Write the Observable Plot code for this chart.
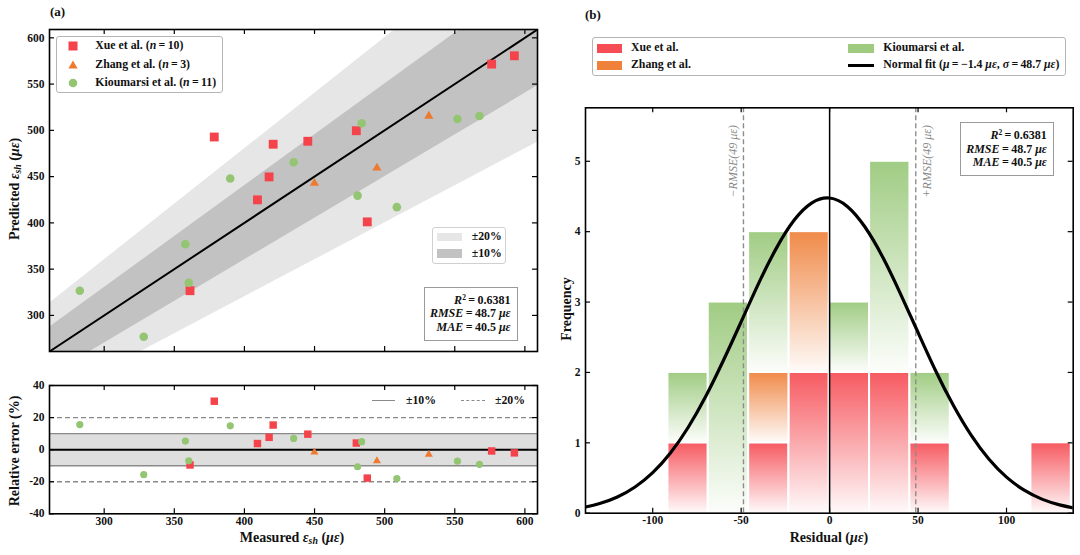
<!DOCTYPE html>
<html><head><meta charset="utf-8">
<script src="https://cdn.jsdelivr.net/npm/d3@7"></script>
<script src="https://cdn.jsdelivr.net/npm/@observablehq/plot@0.6"></script>
<style>
html,body{margin:0;padding:0;background:#fff;}
#root{position:relative;width:1080px;height:555px;overflow:hidden;font-family:"Liberation Serif","Times New Roman",serif;font-weight:bold;color:#111;}
.pw{position:absolute;}
.t{position:absolute;white-space:nowrap;line-height:1;}
.rot{transform:translate(-50%,-50%) rotate(-90deg);}
.ctr{transform:translate(-50%,-50%);}
.vc{transform:translateY(-50%);}
.box{position:absolute;box-sizing:border-box;background:rgba(255,255,255,0.93);}
sup{font-size:0.62em;vertical-align:0.55em;line-height:0;}
sub{font-size:0.7em;vertical-align:-0.25em;line-height:0;}
</style></head><body><div id="root"></div>
<script>
// ---------- data ----------
const sources = ["Xue et al.", "Zhang et al.", "Kioumarsi et al."];
const sourceN = [10, 3, 11];
const colors = ["#F5434B", "#EE7A30", "#93C572"];
const xueMeasured   = [592.5, 576.3, 378.5, 420.5, 445.2, 479.8, 417.6, 409.3, 361.2, 487.6];
const xuePredicted  = [580.6, 571.6, 492.8, 485.0, 488.2, 499.6, 449.7, 424.9, 326.7, 401.1];
const zhangMeasured = [531.5, 494.5, 449.9];
const zhangPredicted= [515.5, 459.4, 442.9];
const kiouMeasured  = [282.6, 328.2, 357.9, 360.3, 389.9, 435.1, 483.6, 480.7, 508.7, 551.9, 567.6];
const kiouPredicted = [326.7, 277.0, 377.0, 335.3, 447.9, 465.5, 507.6, 429.5, 417.0, 512.3, 515.5];
const axisLimits = [261, 609];
const strainTicks = [300, 350, 400, 450, 500, 550, 600];
const errorLimits = [-40, 40];
const errorTicks = [-40, -20, 0, 20, 40];
const bandPct = [10, 20];
const binEdges = [-91.4, -68.6, -45.8, -23.0, -0.2, 22.6, 45.4, 68.2, 91.0, 113.8, 136.6];
const xueCounts   = [1, 0, 1, 2, 2, 2, 1, 0, 0, 1];
const zhangCounts = [0, 0, 1, 2, 0, 0, 0, 0, 0, 0];
const kiouCounts  = [1, 3, 2, 0, 1, 3, 1, 0, 0, 0];
const residualLimits = [-138, 137.7];
const residualTicks = [-100, -50, 0, 50, 100];
const freqLimits = [0, 5.76];
const freqTicks = [0, 1, 2, 3, 4, 5];
const fitX = [-138, -130, -120, -110, -100, -90, -80, -70, -60, -50, -40, -30, -20, -10, 0, 10, 20, 30, 40, 50, 60, 70, 80, 90, 100, 110, 120, 130, 138];
const fitY = [0.088, 0.137, 0.231, 0.373, 0.577, 0.856, 1.218, 1.661, 2.173, 2.72, 3.272, 3.77, 4.165, 4.41, 4.478, 4.359, 4.066, 3.639, 3.12, 2.567, 2.02, 1.529, 1.108, 0.77, 0.512, 0.327, 0.20, 0.118, 0.075];
const rmse = 48.7;
const rmseLabelY = 5.0;

// ---------- helpers ----------
const root = document.getElementById("root");
const fmt = d => d < 0 ? "-" + Math.abs(d) : String(d);
const style = {fontFamily: "'Liberation Serif','Times New Roman',serif", fontSize: "11.5px", fontWeight: "bold", color: "#111", background: "transparent", overflow: "visible"};
function place(el, left, top) { const w = document.createElement("div"); w.className = "pw"; w.style.left = left + "px"; w.style.top = top + "px"; w.appendChild(el); root.appendChild(w); return w; }
function html(s) { root.insertAdjacentHTML("beforeend", s); }
const TL = 5;
function inwardTicks(xt, yt, fw, fh) {
  const o = {stroke: "#000", strokeWidth: 1.2};
  return [
    Plot.tickY(yt, {y: d => d, insetRight: fw - TL, ...o}),
    Plot.tickY(yt, {y: d => d, insetLeft: fw - TL, ...o}),
    Plot.tickX(xt, {x: d => d, insetTop: fh - TL, ...o}),
    Plot.tickX(xt, {x: d => d, insetBottom: fh - TL, ...o})
  ];
}
const symbols = ["square", "triangle", "circle"];
const rUpper = [5, 3.4, 4.3];
const rLower = [4.2, 3.0, 3.6];
const points = [];
[[xueMeasured, xuePredicted], [zhangMeasured, zhangPredicted], [kiouMeasured, kiouPredicted]].forEach(([m, p], s) =>
  m.forEach((v, i) => points.push({s, measured: v, predicted: p[i], relErr: (p[i] - v) / v * 100})));

// ---------- (a) upper ----------
const W1 = 545, H1 = 360, mL = 49, mR = 8, mT1 = 29, mB1 = 9;
const fw = W1 - mL - mR, fh1 = H1 - mT1 - mB1;
const plotA1 = Plot.plot({
  width: W1, height: H1, marginLeft: mL, marginRight: mR, marginTop: mT1, marginBottom: mB1,
  x: {domain: axisLimits, axis: null},
  y: {domain: axisLimits},
  style,
  marks: [
    Plot.areaY(axisLimits, {x: d => d, y1: d => d * (1 - bandPct[1] / 100), y2: d => d * (1 + bandPct[1] / 100), fill: "#e6e6e6", clip: true}),
    Plot.areaY(axisLimits, {x: d => d, y1: d => d * (1 - bandPct[0] / 100), y2: d => d * (1 + bandPct[0] / 100), fill: "#c2c2c2", clip: true}),
    Plot.line(axisLimits, {x: d => d, y: d => d, stroke: "#000", strokeWidth: 2, clip: true}),
    ...[0, 1, 2].map(s => Plot.dot(points.filter(d => d.s === s), {x: "measured", y: "predicted", symbol: symbols[s], r: rUpper[s], fill: colors[s]})),
    Plot.axisY({ticks: strainTicks, tickSize: 0, tickPadding: 5, label: null, tickFormat: fmt}),
    ...inwardTicks(strainTicks, strainTicks, fw, fh1),
    Plot.frame({stroke: "#000", strokeWidth: 1.6})
  ]
});
place(plotA1, 0, 0);

// ---------- (a) lower ----------
const W2 = 545, H2 = 185, top2 = 370, mT2 = 15, mB2 = 41.7;
const fh2 = H2 - mT2 - mB2;
const plotA2 = Plot.plot({
  width: W2, height: H2, marginLeft: mL, marginRight: mR, marginTop: mT2, marginBottom: mB2,
  x: {domain: axisLimits},
  y: {domain: errorLimits},
  style,
  marks: [
    Plot.areaY(axisLimits, {x: d => d, y1: () => -bandPct[0], y2: () => bandPct[0], fill: "#dedede"}),
    Plot.ruleY([-bandPct[0], bandPct[0]], {stroke: "#8a8a8a", strokeWidth: 1.4}),
    Plot.ruleY([-bandPct[1], bandPct[1]], {stroke: "#8a8a8a", strokeWidth: 1.3, strokeDasharray: "5,3"}),
    Plot.ruleY([0], {stroke: "#000", strokeWidth: 2}),
    ...[0, 1, 2].map(s => Plot.dot(points.filter(d => d.s === s), {x: "measured", y: "relErr", symbol: symbols[s], r: rLower[s], fill: colors[s]})),
    Plot.axisX({ticks: strainTicks, tickSize: 0, tickPadding: 3, label: null}),
    Plot.axisY({ticks: errorTicks, tickSize: 0, tickPadding: 5, label: null, tickFormat: fmt}),
    ...inwardTicks(strainTicks, errorTicks, fw, fh2),
    Plot.frame({stroke: "#000", strokeWidth: 1.6})
  ]
});
place(plotA2, 0, top2);

// ---------- (b) histogram ----------
const W3 = 530, H3 = 555, left3 = 550, mL3 = 35, mR3 = 7.3, mT3 = 107.3, mB3 = 42.3;
const fw3 = W3 - mL3 - mR3, fh3 = H3 - mT3 - mB3;
const countsBySource = [xueCounts, zhangCounts, kiouCounts];
const barSegs = [];
binEdges.slice(0, -1).forEach((x0, i) => {
  let cum = 0;
  countsBySource.forEach((c, s) => { if (c[i] > 0) { barSegs.push({s, x1: x0, x2: binEdges[i + 1], y1: cum, y2: cum + c[i]}); cum += c[i]; } });
});
const fit = fitX.map((x, i) => ({x, y: fitY[i]}));
const plotB = Plot.plot({
  width: W3, height: H3, marginLeft: mL3, marginRight: mR3, marginTop: mT3, marginBottom: mB3,
  x: {domain: residualLimits},
  y: {domain: freqLimits},
  style,
  marks: [
    ...[0, 1, 2].map(s => Plot.rect(barSegs.filter(d => d.s === s), {x1: "x1", x2: "x2", y1: "y1", y2: "y2", fill: `url(#grad${s})`, stroke: "#fff", strokeWidth: 2})),
    Plot.ruleX([0], {stroke: "#000", strokeWidth: 1.5}),
    Plot.ruleX([-rmse, rmse], {stroke: "#8c8c8c", strokeWidth: 1.4, strokeDasharray: "5,3"}),
    Plot.line(fit, {x: "x", y: "y", curve: "natural", stroke: "#000", strokeWidth: 3.2, clip: true}),
    Plot.text([{x: -rmse, label: "\u2212RMSE(49 \u03bc\u03b5)"}], {x: "x", y: () => rmseLabelY, text: "label", rotate: -90, dx: -10, fill: "#888", fontStyle: "italic", fontWeight: "normal", fontSize: 12}),
    Plot.text([{x: rmse, label: "+RMSE(49 \u03bc\u03b5)"}], {x: "x", y: () => rmseLabelY, text: "label", rotate: -90, dx: 11, fill: "#888", fontStyle: "italic", fontWeight: "normal", fontSize: 12}),
    Plot.axisX({ticks: residualTicks, tickSize: 0, tickPadding: 3, label: null, tickFormat: fmt}),
    Plot.axisY({ticks: freqTicks, tickSize: 0, tickPadding: 5, label: null, tickFormat: d => String(d)}),
    ...inwardTicks(residualTicks, freqTicks, fw3, fh3),
    Plot.frame({stroke: "#000", strokeWidth: 1.6})
  ]
});
{
  const sel = d3.select(plotB);
  const defs = sel.insert("defs", ":first-child");
  colors.forEach((c, i) => {
    const g = defs.append("linearGradient").attr("id", "grad" + i).attr("x1", 0).attr("y1", 0).attr("x2", 0).attr("y2", 1);
    g.append("stop").attr("offset", "0%").attr("stop-color", c).attr("stop-opacity", 0.88);
    g.append("stop").attr("offset", "100%").attr("stop-color", c).attr("stop-opacity", 0.03);
  });
}
place(plotB, left3, 0);

// ---------- text overlays ----------
const eps = '<i>\u03b5<sub>sh</sub></i>';
const ue = '<i>\u03bc\u03b5</i>';
html(`<div class="t" style="left:50px;top:5px;font-size:13px">(a)</div>`);
html(`<div class="t" style="left:585px;top:8px;font-size:13px">(b)</div>`);
html(`<div class="t rot" style="left:15px;top:189px;font-size:14px">Predicted ${eps} (${ue})</div>`);
html(`<div class="t rot" style="left:15px;top:451px;font-size:14px">Relative error (%)</div>`);
html(`<div class="t ctr" style="left:292px;top:538px;font-size:14px">Measured ${eps} (${ue})</div>`);
html(`<div class="t rot" style="left:567px;top:309px;font-size:14px">Frequency</div>`);
html(`<div class="t ctr" style="left:829px;top:538px;font-size:14px">Residual (${ue})</div>`);

// legend (a) upper
const markerSvg = [
  c => `<svg width="12" height="12"><rect x="1.5" y="1.5" width="9" height="9" fill="${c}"/></svg>`,
  c => `<svg width="12" height="12"><path d="M6,1.5 L10.6,9.6 L1.4,9.6 Z" fill="${c}"/></svg>`,
  c => `<svg width="12" height="12"><circle cx="6" cy="6" r="4.3" fill="${c}"/></svg>`
];
let legA = `<div class="box" style="left:55.7px;top:35.7px;width:167px;height:57px;border:1px solid #b5b5b5;border-radius:3px;font-size:11.8px">`;
[9.6, 28, 46.3].forEach((cy, s) => {
  legA += `<div class="t" style="left:10.6px;top:${cy - 6}px">${markerSvg[s](colors[s])}</div>`;
  legA += `<div class="t vc" style="left:38.6px;top:${cy}px">${sources[s]} (<i>n</i>\u2009=\u2009${sourceN[s]})</div>`;
});
legA += `</div>`;
html(legA);

// band legend
html(`<div class="box" style="left:431.7px;top:226.7px;width:74px;height:37.3px;border:1px solid #d0d0d0;border-radius:3px;font-size:11.8px">
<div class="t" style="left:4.3px;top:5px;width:24.7px;height:8.3px;background:#e6e6e6"></div>
<div class="t vc" style="left:39px;top:9.3px">\u00b120%</div>
<div class="t" style="left:4.3px;top:21.7px;width:24.7px;height:8.3px;background:#c2c2c2"></div>
<div class="t vc" style="left:39px;top:26.3px">\u00b110%</div></div>`);

// stats boxes
const statsHtml = `<div style="position:absolute;right:6.5px;top:6px;text-align:right;line-height:13.5px;font-size:12px">
<i>R</i><sup>2</sup>\u2009=\u20090.6381<br><i>RMSE</i>\u2009=\u200948.7 ${ue}<br><i>MAE</i>\u2009=\u200940.5 ${ue}</div>`;
html(`<div class="box" style="left:424px;top:286.7px;width:94px;height:54px;border:1.2px solid #9a9a9a">${statsHtml}</div>`);
html(`<div class="box" style="left:960px;top:122.3px;width:94.3px;height:53.7px;border:1.2px solid #9a9a9a">${statsHtml}</div>`);

// lower legend
html(`<div class="t" style="left:371.7px;top:400px;width:23.3px;border-top:1.4px solid #8a8a8a"></div>
<div class="t vc" style="left:406px;top:400.7px;font-size:11.8px">\u00b110%</div>
<div class="t" style="left:461px;top:400px;width:24px;border-top:1.4px dashed #8a8a8a"></div>
<div class="t vc" style="left:495px;top:400.7px;font-size:11.8px">\u00b120%</div>`);

// legend (b)
html(`<div class="box" style="left:591.7px;top:37.3px;width:474.3px;height:38.7px;border:1px solid #b5b5b5;border-radius:3px;font-size:11.8px">
<div class="t" style="left:4px;top:5.4px;width:25px;height:9px;background:${colors[0]};opacity:0.95"></div>
<div class="t vc" style="left:38.3px;top:10px">${sources[0]}</div>
<div class="t" style="left:4px;top:22.7px;width:25px;height:9px;background:${colors[1]};opacity:0.95"></div>
<div class="t vc" style="left:38.3px;top:26.7px">${sources[1]}</div>
<div class="t" style="left:255.3px;top:5.4px;width:25.7px;height:9px;background:${colors[2]};opacity:0.9"></div>
<div class="t vc" style="left:290.6px;top:10px">${sources[2]}</div>
<div class="t" style="left:255.3px;top:25.5px;width:25.7px;height:3px;background:#000"></div>
<div class="t vc" style="left:290.6px;top:26.7px">Normal fit (<i>\u03bc</i>\u2009=\u2009\u22121.4 ${ue}, <i>\u03c3</i>\u2009=\u200948.7 ${ue})</div></div>`);
</script>
</body></html>
